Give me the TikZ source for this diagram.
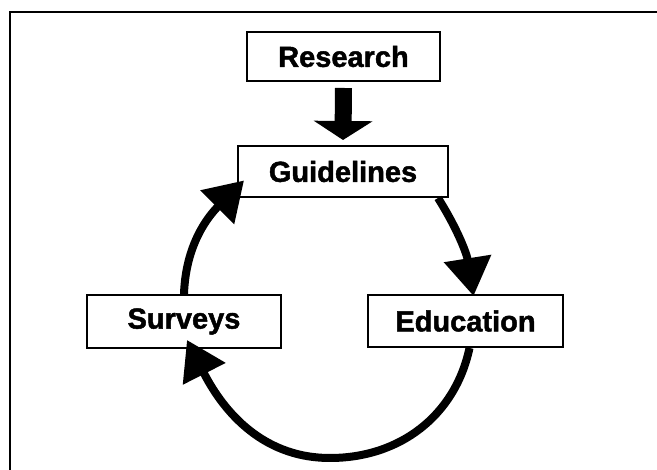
\documentclass[tikz,border=0pt]{standalone}
\usepackage{fontspec}
\setmainfont{Liberation Sans}[BoldFeatures={FakeBold=1.6}]
\usetikzlibrary{arrows.meta}

\newcommand{\FrameW}{657}
\newcommand{\FrameH}{470}
\newcommand{\FrameTop}{458}

\begin{document}
\begin{tikzpicture}[x=1pt,y=1pt,
    stage/.style={draw, line width=2pt, inner sep=0pt,
      font=\bfseries\fontsize{29}{34}\selectfont},
    cyclearrow/.style={line width=8pt, -{Triangle[width=46pt,length=38pt]}}]
    \useasboundingbox (0,0) rectangle (\FrameW,\FrameH);
    \draw[line width=2.5pt] (\FrameW,\FrameTop) -- (10,\FrameTop) -- (10,0);

    \node[stage, minimum width=193pt, minimum height=49pt] (Research)   at (343.5,413.5) {Research};
    \node[stage, minimum width=210pt, minimum height=51pt] (Guidelines) at (343,298.5)   {Guidelines};
    \node[stage, minimum width=194pt, minimum height=53pt] (Surveys)    at (184,148.5)   {Surveys};
    \node[stage, minimum width=195pt, minimum height=52pt] (Education)  at (465.5,149)   {Education};

    \draw[line width=17pt, -{Triangle[width=58pt,length=19pt]}]
        ([yshift=-6pt]Research.south) -- ([yshift=5pt]Guidelines.north);

    % the loop guidelines -> education -> surveys -> guidelines
    \coordinate (Bottom) at (330,12);
    \draw[cyclearrow] ([xshift=95pt]Guidelines.south) to[out=-58,in=99] ([xshift=8pt,yshift=-2pt]Education.north);
    \draw[cyclearrow] ([xshift=4pt]Education.south) to[out=-102,in=0] (Bottom)
        to[out=180,in=-63] ([xshift=3pt,yshift=9pt]Surveys.south);
    \draw[cyclearrow] (Surveys.north) to[out=88,in=225] ([xshift=7pt,yshift=-9pt]Guidelines.west);
\end{tikzpicture}
\end{document}
